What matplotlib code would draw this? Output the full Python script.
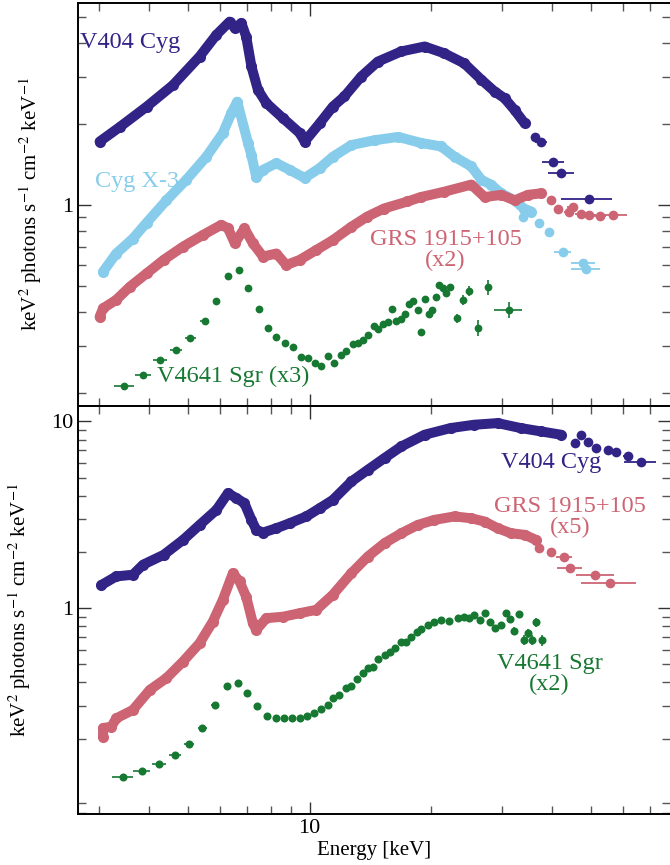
import matplotlib
matplotlib.use("Agg")
import matplotlib.pyplot as plt
import numpy as np
from matplotlib.ticker import LogLocator, FuncFormatter, NullFormatter, FixedLocator

plt.rcParams.update({
    "font.family": "serif",
    "font.serif": ["Liberation Serif", "DejaVu Serif"],
    "mathtext.fontset": "stix",
    "xtick.direction": "in",
    "ytick.direction": "in",
    "xtick.top": True,
    "ytick.right": True,
})

NAVY = "#322387"
SKY = "#87CDEB"
PINK = "#CD6473"
GREEN = "#177832"

# ---------------- upper panel: soft-state spectra ----------------
v404_a_e = [3.01, 3.38, 3.94, 4.58, 5.33, 5.87, 6.33, 6.52, 6.77, 6.96, 7.17, 7.44, 7.81,
            8.59, 9.45, 9.72, 10.59, 11.42, 12.2, 13.43, 14.77, 16.89, 19.3, 21.6, 24.2,
            26.7, 28.8, 30.5, 32.3, 34.2]
v404_a_f = [1.72, 1.95, 2.32, 2.79, 3.56, 4.29, 4.80, 4.54, 4.74, 4.22, 3.27, 2.68, 2.39,
            2.10, 1.85, 1.72, 2.01, 2.32, 2.53, 3.00, 3.41, 3.72, 3.88, 3.66, 3.36,
            2.92, 2.64, 2.49, 2.25, 2.01]
v404_a_bin_e = [36.2, 37.6, 40.1, 42.0, 49.5]
v404_a_bin_f = [1.79, 1.72, 1.44, 1.32, 1.05]
v404_a_bin_lo = [35.4, 36.3, 37.7, 39.0, 42.1]
v404_a_bin_hi = [37.0, 38.9, 42.8, 45.3, 56.4]

cygx3_e = [3.07, 3.31, 3.64, 3.94, 4.41, 4.94, 5.54, 6.09, 6.39, 6.61, 7.03, 7.17, 7.37,
           7.66, 8.27, 8.92, 9.72, 10.59, 11.42, 12.7, 14.5, 16.6, 18.9, 21.2, 22.9,
           25.2, 26.7, 28.2, 29.9, 32.3, 34.0, 35.5]
cygx3_f = [0.565, 0.66, 0.75, 0.86, 1.04, 1.24, 1.51, 1.85, 2.19, 2.42, 1.70, 1.53, 1.27,
           1.35, 1.43, 1.35, 1.26, 1.37, 1.51, 1.67, 1.74, 1.79, 1.70, 1.65, 1.51,
           1.39, 1.24, 1.19, 1.105, 1.04, 0.97, 0.945]
cygx3_bin_e = [33.8, 37.2, 39.4, 42.5, 47.6, 48.6]
cygx3_bin_f = [0.905, 0.855, 0.796, 0.67, 0.61, 0.58]
cygx3_bin_lo = [33.3, 36.4, 38.4, 40.5, 44.5, 44.5]
cygx3_bin_hi = [34.3, 38.0, 40.4, 44.5, 51.0, 52.5]

grs_a_e = [3.01, 3.07, 3.31, 3.58, 3.94, 4.34, 4.85, 5.44, 6.03, 6.27, 6.52, 6.89, 7.23,
           7.66, 8.27, 8.75, 9.45, 10.39, 11.42, 12.7, 13.9, 15.3, 17.5, 18.9, 21.6,
           25.2, 27.2, 29.9, 32.3, 34.8, 37.6]
grs_a_f = [0.384, 0.413, 0.444, 0.497, 0.557, 0.625, 0.70, 0.774, 0.843, 0.82, 0.72, 0.819,
           0.72, 0.643, 0.66, 0.598, 0.625, 0.68, 0.74, 0.83, 0.905, 0.97, 1.03, 1.07, 1.12,
           1.19, 1.07, 1.09, 1.04, 1.09, 1.105]
grs_a_bin_e = [39.8, 41.3, 44.0, 45.0, 47.2, 49.5, 52.5, 56.7]
grs_a_bin_f = [1.04, 0.964, 0.945, 0.985, 0.926, 0.918, 0.91, 0.918]
grs_a_bin_lo = [39.0, 40.4, 42.9, 43.6, 45.6, 47.6, 50.5, 51.8]
grs_a_bin_hi = [40.6, 42.2, 45.1, 46.4, 48.8, 51.4, 54.5, 61.5]

v4641_a_e = [3.46, 3.86, 4.26, 4.67, 5.06, 5.49, 5.87, 6.27, 6.67, 7.04, 7.49, 7.88, 8.27,
             8.67, 9.09, 9.54, 9.9, 10.29, 10.7, 11.1, 11.5, 11.94, 12.3, 12.8, 13.2,
             13.56, 13.95, 14.45, 14.77, 15.2, 15.65, 16.06, 16.4, 16.9, 17.3, 17.7,
             18.1, 18.55, 18.9, 19.3, 19.8, 20.15, 20.6, 21.0, 21.4, 21.8, 22.3, 23.2,
             24.1, 24.9, 26.2, 27.8, 31.2]
v4641_a_f = [0.212, 0.233, 0.265, 0.289, 0.321, 0.372, 0.441, 0.545, 0.573, 0.493, 0.409,
             0.35, 0.322, 0.306, 0.297, 0.272, 0.271, 0.258, 0.252, 0.275, 0.258, 0.277,
             0.287, 0.304, 0.308, 0.315, 0.329, 0.355, 0.345, 0.36, 0.366, 0.41, 0.372,
             0.377, 0.394, 0.429, 0.44, 0.407, 0.336, 0.448, 0.393, 0.407, 0.456, 0.504,
             0.49, 0.47, 0.497, 0.38, 0.444, 0.48, 0.35, 0.494, 0.408]
v4641_a_xerr = [0.20, 0.18, 0.17, 0.16, 0.15, 0.14, 0.13, 0.12, 0.12, 0.10, 0.10, 0.09, 0.09,
                0.08, 0.08, 0.08, 0.08, 0.08, 0.08, 0.08, 0.08, 0.08, 0.08, 0.08, 0.08,
                0.08, 0.08, 0.08, 0.08, 0.08, 0.08, 0.08, 0.08, 0.08, 0.08, 0.08,
                0.08, 0.08, 0.08, 0.08, 0.08, 0.08, 0.08, 0.08, 0.08, 0.08, 0.08, 0.2,
                0.25, 0.3, 0.5, 0.6, 2.5]
v4641_a_yerr = [0] * 47 + [0.015, 0.02, 0.02, 0.023, 0.03, 0.029]

# ---------------- lower panel: hard-state spectra ----------------
v404_b_e = [3.04, 3.31, 3.64, 3.86, 4.34, 4.85, 5.33, 5.87, 6.27, 6.57, 6.89, 7.17, 7.37,
            7.66, 8.27, 8.92, 9.82, 10.59, 11.42, 12.7, 13.95, 15.35, 16.9, 19.3, 22.4,
            25.6, 29.3, 33.4, 37.6, 42.1]
v404_b_f = [1.33, 1.48, 1.51, 1.71, 1.93, 2.32, 2.79, 3.36, 4.13, 3.89, 3.65, 2.97, 2.63,
            2.54, 2.68, 2.85, 3.10, 3.43, 3.80, 4.77, 5.51, 6.37, 7.35, 8.49, 9.22,
            9.6, 9.8, 9.22, 8.84, 8.49]
v404_b_bin_e = [45.5, 47.2, 49.0, 51.4, 55.0, 57.8, 61.6, 66.5]
v404_b_bin_f = [7.66, 8.49, 7.81, 7.2, 7.05, 6.82, 6.55, 6.1]
v404_b_bin_lo = [44.8, 46.4, 48.2, 50.5, 54.0, 56.7, 59.9, 60.4]
v404_b_bin_hi = [46.2, 48.0, 49.8, 52.3, 56.0, 58.9, 63.3, 72.4]

grs_b_e = [3.07, 3.07, 3.22, 3.31, 3.64, 4.01, 4.41, 4.85, 5.33, 5.75, 6.09, 6.45, 6.7,
           6.96, 7.23, 7.37, 7.81, 8.59, 9.45, 10.39, 11.42, 12.7, 13.95, 15.35, 16.9,
           18.55, 20.4, 22.9, 25.2, 27.2, 29.3, 31.6, 34.2, 36.5]
grs_b_f = [0.205, 0.228, 0.232, 0.257, 0.285, 0.365, 0.422, 0.518, 0.649, 0.848, 1.11,
           1.54, 1.39, 1.15, 0.83, 0.765, 0.884, 0.90, 0.94, 0.98, 1.18, 1.54, 1.89, 2.23,
           2.52, 2.79, 2.97, 3.10, 3.03, 2.91, 2.68, 2.52, 2.47, 2.32]
grs_b_bin_e = [37.2, 39.8, 42.8, 44.3, 51.2, 55.8]
grs_b_bin_f = [2.11, 1.99, 1.89, 1.64, 1.50, 1.37]
grs_b_bin_lo = [36.6, 39.0, 40.9, 41.2, 45.9, 47.2]
grs_b_bin_hi = [37.8, 40.6, 44.7, 47.4, 56.9, 64.6]

v4641_b_e = [3.44, 3.83, 4.23, 4.63, 5.02, 5.41, 5.83, 6.24, 6.64, 7.01, 7.4, 7.84, 8.23,
             8.63, 9.05, 9.45, 9.85, 10.27, 10.7, 11.1, 11.42, 11.86, 12.3, 12.7, 13.1,
             13.56, 13.95, 14.35, 14.77, 15.35, 15.8, 16.27, 16.9, 17.4, 17.9, 18.5, 18.9,
             19.7, 20.4, 21.2, 22.25, 23.3, 24.2, 24.9, 25.6, 26.5, 27.3, 28.1, 28.9,
             29.9, 30.7, 31.5, 32.2, 33.1, 34.0, 34.8, 35.6, 36.5, 37.8]
v4641_b_f = [0.124, 0.135, 0.146, 0.164, 0.1875, 0.228, 0.303, 0.383, 0.396, 0.353, 0.30,
             0.265, 0.257, 0.257, 0.258, 0.259, 0.266, 0.274, 0.288, 0.303, 0.33, 0.343,
             0.375, 0.383, 0.416, 0.449, 0.477, 0.487, 0.533, 0.562, 0.585, 0.61, 0.662,
             0.662, 0.705, 0.749, 0.772, 0.814, 0.848, 0.866, 0.858, 0.884, 0.895, 0.884,
             0.92, 0.866, 0.94, 0.841, 0.787, 0.814, 0.947, 0.873, 0.759, 0.929, 0.676,
             0.735, 0.676, 0.841, 0.676]
v4641_b_xerr = [0.20, 0.18, 0.17, 0.16, 0.15, 0.14, 0.13, 0.12, 0.12, 0.10, 0.10, 0.09,
                0.09] + [0.08] * 46
v4641_b_yerr = [0] * 48 + [0.03, 0.03, 0.03, 0.035, 0.035, 0.035, 0.04, 0.04, 0.04,
                           0.045, 0.045]


def band(ax, e, f, color, lw=7.2, ms=8.0):
    # dense spectra: thick connecting trace with a dot on every bin
    ax.plot(e, f, "-", color=color, lw=lw, solid_capstyle="round",
            solid_joinstyle="round", zorder=3)
    ax.plot(e, f, "o", color=color, ms=ms, mec="none", zorder=3)


def binned(ax, e, f, lo, hi, color, ms=7.0, yerr=None):
    e = np.asarray(e)
    xerr = [e - np.asarray(lo), np.asarray(hi) - e]
    ax.errorbar(e, f, xerr=xerr, yerr=yerr, fmt="o", color=color, ms=ms, mec="none",
                ecolor=color, elinewidth=1.3, capsize=0, zorder=3)


def style_axis(ax, ylim, yticks):
    ax.set_xscale("log")
    ax.set_yscale("log")
    ax.set_xlim(2.66, 78.5)
    ax.set_ylim(*ylim)
    ax.xaxis.set_major_locator(FixedLocator([1, 10, 100]))
    ax.xaxis.set_minor_locator(LogLocator(base=10, subs=np.arange(2, 10)))
    ax.xaxis.set_major_formatter(FuncFormatter(lambda v, _: f"{v:g}"))
    ax.xaxis.set_minor_formatter(NullFormatter())
    ax.yaxis.set_major_locator(FixedLocator(yticks))
    ax.yaxis.set_minor_locator(LogLocator(base=10, subs=np.arange(2, 10)))
    ax.yaxis.set_major_formatter(FuncFormatter(lambda v, _: f"{v:g}"))
    ax.yaxis.set_minor_formatter(NullFormatter())
    ax.tick_params(which="major", length=9, width=1.0, labelsize=16, color="#333333")
    ax.tick_params(which="minor", length=5.5, width=1.0, color="#555555")
    for s in ax.spines.values():
        s.set_linewidth(1.4)
    ax.spines["right"].set_visible(False)
    ax.set_ylabel(r"keV$^2$ photons s$^{-1}$ cm$^{-2}$ keV$^{-1}$", fontsize=15, labelpad=13)


fig = plt.figure(figsize=(6.7, 8.65), dpi=100)
left, width = 78 / 670, 592 / 670
ax1 = fig.add_axes([left, 459 / 865, width, 403 / 865])
ax2 = fig.add_axes([left, 51 / 865, width, 408 / 865])

# upper panel
band(ax1, v404_a_e, v404_a_f, NAVY)
binned(ax1, v404_a_bin_e, v404_a_bin_f, v404_a_bin_lo, v404_a_bin_hi, NAVY)
band(ax1, cygx3_e, cygx3_f, SKY)
binned(ax1, cygx3_bin_e, cygx3_bin_f, cygx3_bin_lo, cygx3_bin_hi, SKY)
band(ax1, grs_a_e, grs_a_f, PINK)
binned(ax1, grs_a_bin_e, grs_a_bin_f, grs_a_bin_lo, grs_a_bin_hi, PINK)
ax1.errorbar(v4641_a_e, v4641_a_f, xerr=v4641_a_xerr, yerr=v4641_a_yerr, fmt="o",
             color=GREEN, ms=5.6, mec="none", elinewidth=1.2, capsize=0, zorder=3)
style_axis(ax1, (0.179, 5.63), [1, 10])
ax1.tick_params(labelbottom=False)

ax1.text(2.69, 4.0, "V404 Cyg", color=NAVY, fontsize=17.5, ha="left", va="center")
ax1.text(2.93, 1.22, "Cyg X-3", color=SKY, fontsize=17.5, ha="left", va="center")
ax1.text(21.75, 0.68, "GRS 1915+105\n(x2)", color=PINK, fontsize=17.5, ha="center",
         va="center", linespacing=1.0)
ax1.text(4.17, 0.231, "V4641 Sgr (x3)", color=GREEN, fontsize=17.5, ha="left", va="center")

# lower panel
band(ax2, v404_b_e, v404_b_f, NAVY)
binned(ax2, v404_b_bin_e, v404_b_bin_f, v404_b_bin_lo, v404_b_bin_hi, NAVY)
band(ax2, grs_b_e, grs_b_f, PINK)
binned(ax2, grs_b_bin_e, grs_b_bin_f, grs_b_bin_lo, grs_b_bin_hi, PINK)
ax2.errorbar(v4641_b_e, v4641_b_f, xerr=v4641_b_xerr, yerr=v4641_b_yerr, fmt="o",
             color=GREEN, ms=5.8, mec="none", elinewidth=1.2, capsize=0, zorder=3)
style_axis(ax2, (0.079, 12.1), [1, 10])
ax2.set_xlabel("Energy [keV]", fontsize=15, labelpad=2)

ax2.text(39.85, 6.01, "V404 Cyg", color=NAVY, fontsize=17.5, ha="center", va="center")
ax2.text(44.4, 3.07, "GRS 1915+105\n(x5)", color=PINK, fontsize=17.5, ha="center",
         va="center", linespacing=1.0)
ax2.text(39.4, 0.442, "V4641 Sgr\n(x2)", color=GREEN, fontsize=17.5, ha="center",
         va="center", linespacing=1.0)

fig.savefig("out.png", dpi=100)
